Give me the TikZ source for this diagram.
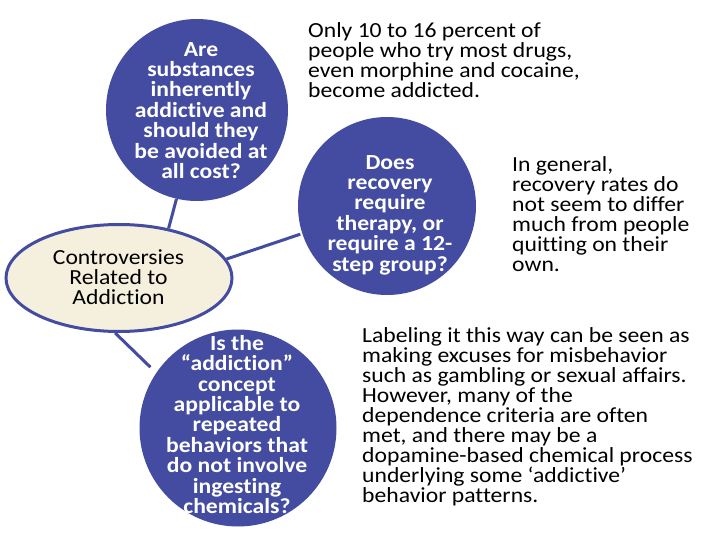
\documentclass[tikz,border=0pt]{standalone}
\usepackage{fontspec}
\setmainfont{Carlito}[Ligatures=NoCommon,FakeStretch=1.1]
\usetikzlibrary{shapes.geometric}
\definecolor{qblue}{RGB}{67,76,160}
\definecolor{cream}{RGB}{245,240,221}

\begin{document}
\begin{tikzpicture}[x=1pt,y=-1pt,
  bubble/.style={circle,fill=qblue,inner sep=0},
  qtext/.style={text=white,font=\bfseries\fontsize{21.5}{20.4}\selectfont,align=center,inner sep=0},
  note/.style={anchor=north west,align=left,inner sep=0,font=\fontsize{21.5}{20}\selectfont},
  link/.style={draw=qblue,line width=3pt}]
\useasboundingbox (0,0) rectangle (720,540);

% hub
\node[ellipse,draw=qblue,line width=3pt,fill=cream,minimum width=226,minimum height=107,inner sep=0] (hub) at (119,278) {};
\node[align=center,inner sep=0,font=\fontsize{21.5}{20}\selectfont] (hubt) at (118.5,277) {Controversies\\Related to\\Addiction};

% questions
\node[bubble,minimum size=182] (q1) at (197,110) {};
\node[qtext] (q1t) at (201,110.5) {Are\\substances\\inherently\\addictive and\\should they\\be avoided at\\all cost?};
\node[bubble,minimum size=178] (q2) at (387,206) {};
\node[qtext] (q2t) at (390,215) {Does\\recovery\\require\\therapy, or\\require a 12-\\step group?};
\node[bubble,minimum size=197] (q3) at (238,428) {};
\node[qtext] (q3t) at (237,424.5) {Is the\\“addiction”\\concept\\applicable to\\repeated\\behaviors that\\do not involve\\ingesting\\chemicals?};

\draw[link] (hub.45) -- (q1.-103);
\draw[link,shorten >=2pt] (hub.10) -- (q2.-162);
\draw[link,shorten >=8pt] (hub.-94) -- (q3.146);

% answers
\node[note] (a1) at (308,22) {Only 10 to 16 percent of\\people who try most drugs,\\even morphine and cocaine,\\become addicted.};
\node[note] (a2) at (512,156) {In general,\\recovery rates do\\not seem to differ\\much from people\\quitting on their\\own.};
\node[note] (a3) at (362,327) {Labeling it this way can be seen as\\making excuses for misbehavior\\such as gambling or sexual affairs.\\However, many of the\\dependence criteria are often\\met, and there may be a\\dopamine-based chemical process\\underlying some ‘addictive’\\behavior patterns.};
\end{tikzpicture}
\end{document}
